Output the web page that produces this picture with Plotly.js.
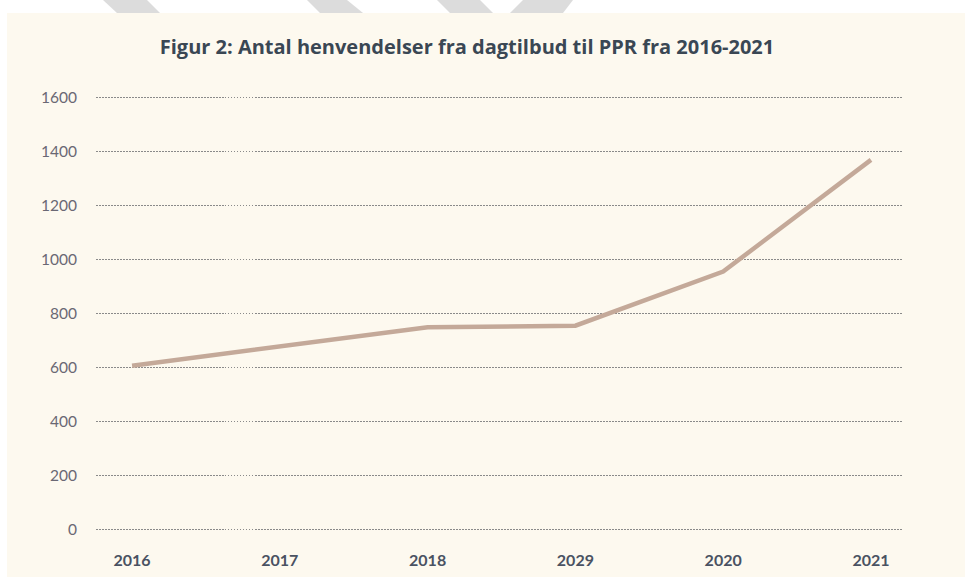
<!DOCTYPE html>
<html>
<head>
<meta charset="utf-8">
<script src="https://cdn.plot.ly/plotly-3.0.1.min.js"></script>
<style>html,body{margin:0;padding:0;background:#fff;}#chart{width:965px;height:577px;}</style>
</head>
<body>
<div id="chart"></div>
<script>
// Data
const years = ["2016", "2017", "2018", "2029", "2020", "2021"];
const henvendelser = [607, 678, 749, 755, 955, 1368];
const yTicks = [0, 200, 400, 600, 800, 1000, 1200, 1400, 1600];
const chartTitle = "Figur 2: Antal henvendelser fra dagtilbud til PPR fra 2016-2021";

// Layout geometry (pixels)
const W = 965, H = 577;
const M = {l: 96, r: 63, t: 95, b: 45};
const pw = W - M.l - M.r, ph = H - M.t - M.b;
const px = x => (x - M.l) / pw;
const py = y => (H - M.b - y) / ph;

function poly(pts, color) {
  let d = pts.map((p, i) => (i ? 'L' : 'M') + px(p[0]) + ',' + py(p[1])).join(' ') + ' Z';
  return {type: 'path', xref: 'paper', yref: 'paper', path: d, fillcolor: color, line: {width: 0}, layer: 'above'};
}

const shapes = [
  // white page margins
  {type: 'rect', xref: 'paper', yref: 'paper', x0: px(-5), x1: px(W + 5), y0: py(13), y1: py(-5), fillcolor: '#ffffff', line: {width: 0}, layer: 'below'},
  {type: 'rect', xref: 'paper', yref: 'paper', x0: px(-5), x1: px(7), y0: py(H + 5), y1: py(-5), fillcolor: '#ffffff', line: {width: 0}, layer: 'below'},
  // watermark stripes
  poly([[103, 0], [147, 0], [160, 13], [117, 13]], '#dcdcdc'),
  poly([[307, 0], [347, 0], [363, 13], [320, 13]], '#dcdcdc'),
  poly([[437, 0], [480, 0], [493, 13], [450, 13]], '#dcdcdc'),
  poly([[523, 0], [573, 0], [563, 13], [510, 13]], '#dcdcdc')
];

const trace = {
  x: years,
  y: henvendelser,
  type: 'scatter',
  mode: 'lines',
  line: {color: '#c4a999', width: 4.5},
  hoverinfo: 'x+y'
};

const layout = {
  width: W, height: H,
  margin: M,
  paper_bgcolor: '#fdf9ef',
  plot_bgcolor: 'rgba(0,0,0,0)',
  showlegend: false,
  title: {
    text: chartTitle,
    font: {family: 'Open Sans, sans-serif', size: 20, color: '#3a4754', weight: 700},
    xref: 'paper', x: px(467), xanchor: 'center',
    yref: 'container', y: 1 - 47 / H, yanchor: 'middle'
  },
  xaxis: {
    type: 'category',
    range: [-0.244, 5.21],
    showgrid: false, zeroline: false, showline: false,
    ticks: '',
    ticklabelstandoff: 17,
    tickfont: {family: 'Lato, sans-serif', size: 16, color: '#4a5262', weight: 700},
    fixedrange: true
  },
  yaxis: {
    range: [-8, 1608],
    tickvals: yTicks,
    ticktext: yTicks.map(String),
    showgrid: true,
    gridcolor: '#8a8a8a', gridwidth: 1, griddash: '1.5px,1.5px',
    zeroline: false, showline: false,
    ticks: '',
    ticklabelstandoff: 18,
    tickfont: {family: 'Lato, sans-serif', size: 15.5, color: '#6a6874'},
    fixedrange: true
  },
  shapes: shapes
};

Plotly.newPlot('chart', [trace], layout, {displayModeBar: false, staticPlot: true});
</script>
</body>
</html>
